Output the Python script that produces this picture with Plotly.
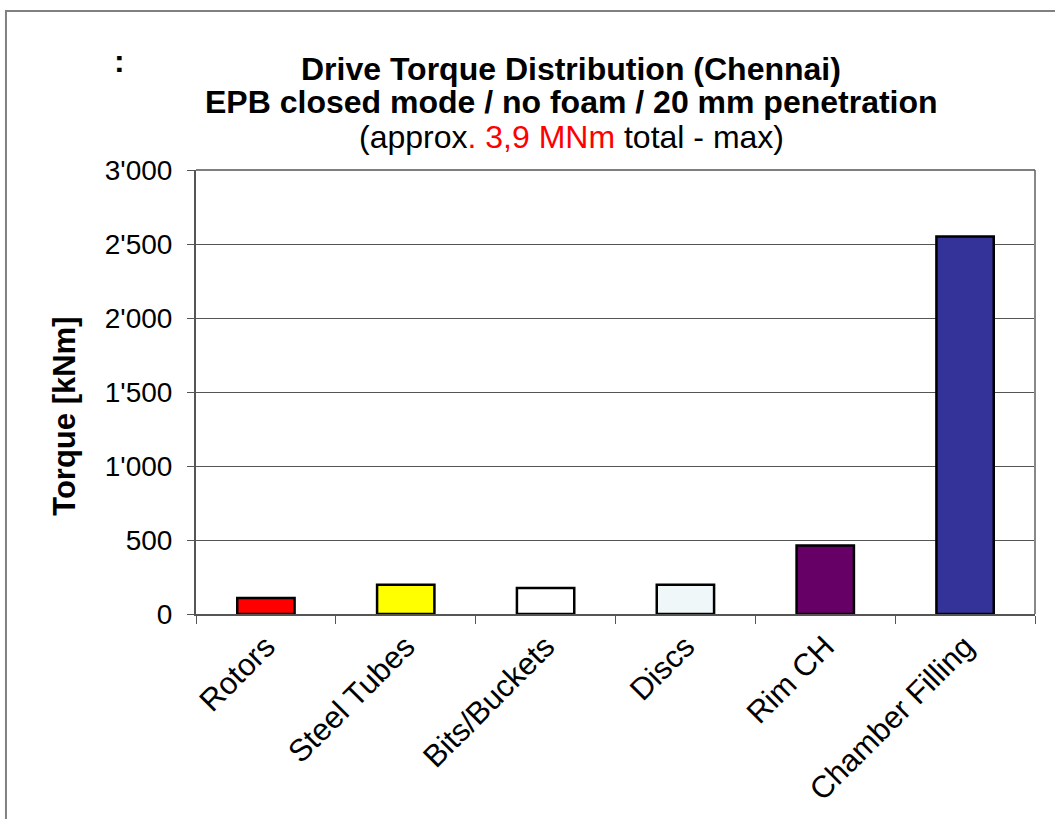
import plotly.graph_objects as go

categories = ["Rotors", "Steel Tubes", "Bits/Buckets", "Discs", "Rim CH", "Chamber Filling"]
torque_knm = [108, 198, 175, 198, 462, 2550]
bar_colors = ["#FF0000", "#FFFF00", "#FFFFFF", "#F0F7F9", "#660066", "#333399"]
y_tick_values = [0, 500, 1000, 1500, 2000, 2500, 3000]
y_tick_labels = ["0", "500", "1'000", "1'500", "2'000", "2'500", "3'000"]

FONT = "Liberation Sans, Arial, sans-serif"

fig = go.Figure(
    go.Bar(
        x=categories,
        y=torque_knm,
        marker=dict(color=bar_colors, line=dict(color="#000000", width=2.5)),
        width=0.41,
        hoverinfo="x+y",
    )
)

fig.update_layout(
    width=1055,
    height=819,
    margin=dict(l=196, r=20, t=170, b=202),
    paper_bgcolor="white",
    plot_bgcolor="white",
    showlegend=False,
    font=dict(family=FONT, color="black"),
    xaxis=dict(
        type="category",
        tickson="boundaries",
        ticks="outside",
        ticklen=8,
        tickcolor="#555555",
        tickangle=-45,
        tickfont=dict(size=31),
        showgrid=False,
        showline=True,
        linecolor="#555555",
        linewidth=2,
        mirror=False,
    ),
    yaxis=dict(
        range=[0, 3000],
        tickvals=y_tick_values,
        ticktext=y_tick_labels,
        ticks="outside",
        ticklen=7,
        tickcolor="#555555",
        tickfont=dict(size=28),
        ticklabelstandoff=9,
        showgrid=True,
        gridcolor="#555555",
        gridwidth=1.3,
        showline=True,
        linecolor="#555555",
        linewidth=2,
        zeroline=False,
    ),
)

# right and top borders of the plot area
fig.add_shape(type="line", xref="paper", yref="paper", x0=1, x1=1, y0=0, y1=1,
              line=dict(color="#888888", width=2))
fig.add_shape(type="line", xref="paper", yref="paper", x0=0, x1=1, y0=1, y1=1,
              line=dict(color="#555555", width=1.5))

# outer frame of the chart area
fig.add_shape(type="rect", xref="paper", yref="paper",
              x0=-0.2265, x1=1.2, y0=-0.6, y1=1.358,
              line=dict(color="#808080", width=2), layer="below")

# axis title
fig.add_annotation(xref="paper", yref="paper", x=-0.157, y=0.445,
                   text="<b>Torque [kNm]</b>", textangle=-90,
                   showarrow=False, font=dict(size=31), xanchor="center", yanchor="middle")

# three-line chart title
fig.add_annotation(xref="paper", yref="paper", x=0.447, y=1.228,
                   text="<b>Drive Torque Distribution (Chennai)</b>",
                   showarrow=False, font=dict(size=32), xanchor="center", yanchor="middle")
fig.add_annotation(xref="paper", yref="paper", x=0.447, y=1.154,
                   text="<b>EPB closed mode / no foam / 20 mm penetration</b>",
                   showarrow=False, font=dict(size=32), xanchor="center", yanchor="middle")
fig.add_annotation(xref="paper", yref="paper", x=0.447, y=1.074,
                   text="(approx<span style='color:#FF0000'>. 3,9 MNm</span> total - max)",
                   showarrow=False, font=dict(size=32), xanchor="center", yanchor="middle")
fig.add_annotation(xref="paper", yref="paper", x=-0.0906, y=1.246,
                   text="<b>:</b>",
                   showarrow=False, font=dict(size=32), xanchor="center", yanchor="middle")

fig.write_html("out.html")
